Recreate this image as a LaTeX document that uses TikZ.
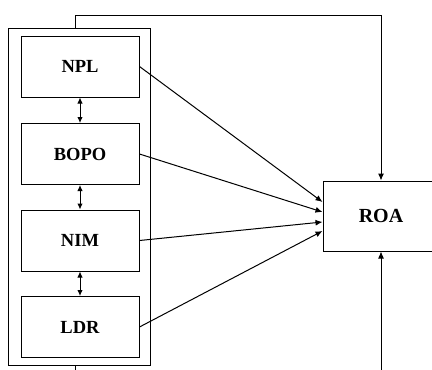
\documentclass[tikz,border=0pt]{standalone}
\usepackage{fontspec}
\setmainfont{Liberation Serif}
\usetikzlibrary{arrows.meta}
\begin{document}
\begin{tikzpicture}[x=1pt,y=-1pt,
  line width=1pt,
  box/.style={draw, line width=1pt, minimum width=118pt, minimum height=61pt, inner sep=0pt,
    font=\fontsize{18.5}{21}\selectfont\bfseries},
  conn/.style={-{Latex[length=7pt,width=6pt]}},
  dconn/.style={{Latex[length=6pt,width=5.5pt]}-{Latex[length=6pt,width=5.5pt]}}]
\useasboundingbox (0,0) rectangle (432,370);
\clip (0,0) rectangle (432,370);
\node[draw, line width=1pt, minimum width=142pt, minimum height=337pt, inner sep=0pt] (outer) at (79,196.5) {};
\node[box] (npl) at (80,66.5) {NPL};
\node[box] (bopo) at (80,154) {BOPO};
\node[box] (nim) at (80,240.5) {NIM};
\node[box] (ldr) at (80,327) {LDR};
\node[box, minimum width=116pt, minimum height=70pt, font=\fontsize{20}{23}\selectfont\bfseries] (roa) at (381,216) {ROA};
\draw[dconn] (npl.south) -- (bopo.north);
\draw[dconn] (bopo.south) -- (nim.north);
\draw[dconn] (nim.south) -- (ldr.north);
\draw[conn] (npl.east) -- ([yshift=14pt]roa.west);
\draw[conn] (bopo.east) -- ([yshift=4pt]roa.west);
\draw[conn] (nim.east) -- ([yshift=-6pt]roa.west);
\draw[conn] (ldr.east) -- ([yshift=-15pt]roa.west);
\coordinate (top) at (0,15);
\coordinate (bot) at (0,390);
\draw[conn] ([xshift=-4pt]outer.north) |- (top -| roa.north) -- (roa.north);
\draw[conn] ([xshift=-4pt]outer.south) |- (bot -| roa.south) -- (roa.south);
\end{tikzpicture}
\end{document}
